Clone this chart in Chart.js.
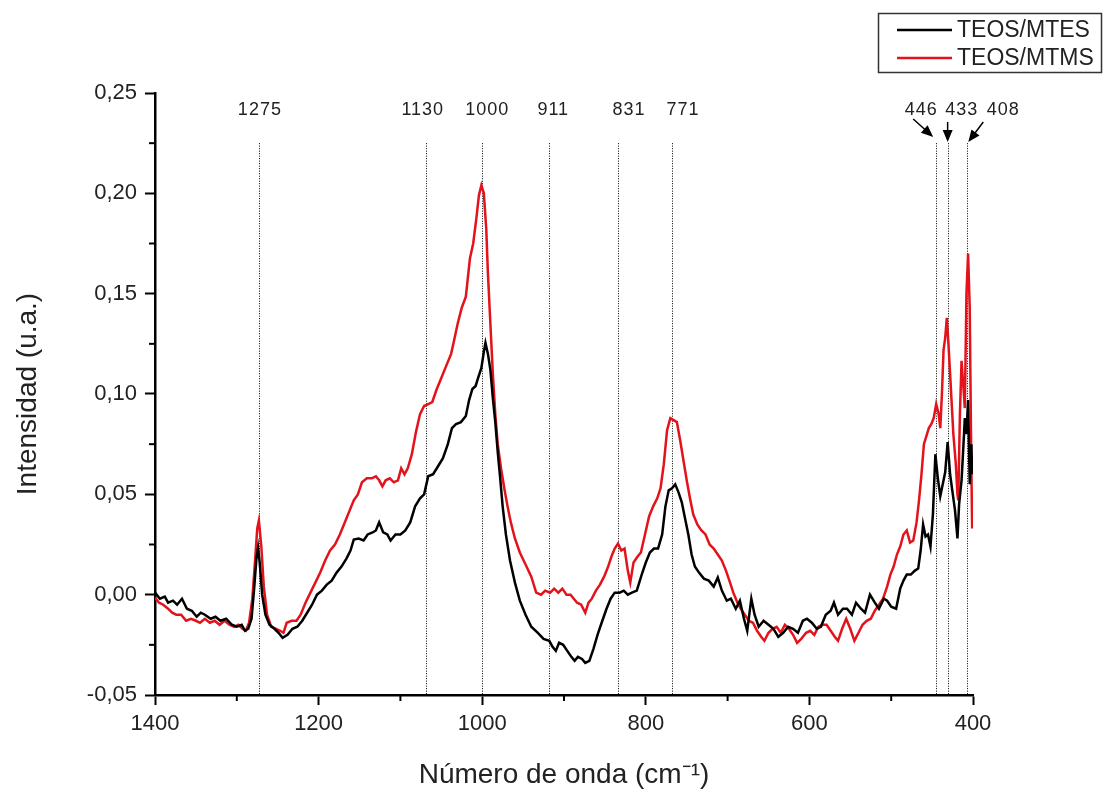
<!DOCTYPE html>
<html>
<head>
<meta charset="utf-8">
<script src="https://cdn.jsdelivr.net/npm/chart.js@4.4.1/dist/chart.umd.min.js"></script>
<style>
  body { margin: 0; background: #fff; }
</style>
</head>
<body>
<canvas id="ramanChart" width="1103" height="792"></canvas>
<script>
// Espectros (numero de onda cm-1, intensidad u.a.)
const mtesSpectrum = [
    [1400,0.001],[1394,-0.002],[1388,-0.001],[1384,-0.004],[1378,-0.003],[1373,-0.005],[1367,-0.002],[1361,-0.007],
    [1355,-0.008],[1349,-0.011],[1344,-0.009],[1339,-0.010],[1332,-0.012],[1326,-0.011],[1320,-0.013],[1313,-0.012],
    [1306,-0.015],[1300,-0.016],[1294,-0.015],[1290,-0.018],[1286,-0.017],[1282,-0.012],[1279,0.002],[1276,0.018],
    [1274,0.0235],[1272,0.016],[1269,0.000],[1265,-0.010],[1260,-0.015],[1254,-0.017],[1249,-0.019],[1244,-0.0215],
    [1238,-0.020],[1232,-0.017],[1226,-0.016],[1220,-0.013],[1214,-0.009],[1208,-0.005],[1202,0.000],[1196,0.002],
    [1190,0.005],[1184,0.007],[1178,0.011],[1172,0.014],[1166,0.018],[1161,0.022],[1157,0.0275],[1151,0.028],
    [1145,0.027],[1140,0.030],[1134,0.031],[1130,0.032],[1126,0.036],[1121,0.031],[1116,0.030],[1112,0.027],
    [1106,0.030],[1100,0.030],[1094,0.032],[1088,0.036],[1082,0.044],[1076,0.048],[1071,0.050],[1066,0.059],
    [1060,0.060],[1054,0.064],[1048,0.068],[1042,0.075],[1037,0.083],[1032,0.085],[1026,0.086],[1020,0.089],
    [1016,0.097],[1012,0.1025],[1008,0.104],[1005,0.108],[1001,0.113],[998,0.121],[996,0.1255],[993,0.120],
    [990,0.112],[987,0.098],[984,0.086],[981,0.071],[978,0.058],[975,0.044],[971,0.030],[966,0.017],
    [960,0.006],[954,-0.003],[947,-0.010],[940,-0.016],[932,-0.019],[925,-0.022],[918,-0.023],[914,-0.026],
    [910,-0.028],[906,-0.024],[901,-0.025],[896,-0.028],[891,-0.031],[887,-0.033],[883,-0.031],[878,-0.032],
    [874,-0.034],[869,-0.033],[864,-0.027],[859,-0.020],[854,-0.014],[848,-0.007],[843,-0.002],[838,0.001],
    [832,0.001],[827,0.002],[822,0.000],[817,0.001],[811,0.002],[805,0.010],[800,0.016],[795,0.021],
    [790,0.023],[785,0.023],[780,0.030],[776,0.044],[772,0.052],[768,0.053],[764,0.055],[760,0.051],
    [756,0.046],[752,0.038],[748,0.030],[744,0.020],[740,0.014],[735,0.011],[729,0.008],[723,0.007],
    [717,0.004],[712,0.0085],[707,0.002],[701,-0.003],[696,-0.002],[690,-0.007],[685,-0.003],[680,-0.012],
    [676,-0.018],[671,-0.002],[667,-0.010],[662,-0.016],[656,-0.013],[650,-0.015],[644,-0.017],[638,-0.021],
    [632,-0.019],[626,-0.016],[620,-0.017],[614,-0.019],[608,-0.013],[603,-0.012],[597,-0.014],[591,-0.017],
    [586,-0.016],[580,-0.010],[574,-0.008],[570,-0.004],[565,-0.010],[559,-0.007],[554,-0.007],[548,-0.010],
    [543,-0.004],[537,-0.007],[532,-0.009],[526,0.000],[520,-0.004],[515,-0.007],[509,-0.002],[505,-0.003],
    [500,-0.006],[494,-0.007],[489,0.003],[485,0.007],[481,0.010],[476,0.010],[471,0.012],[467,0.013],
    [464,0.022],[461,0.035],[458,0.029],[455,0.030],[452,0.024],[449,0.040],[446,0.070],[443,0.058],
    [440,0.049],[437,0.055],[434,0.061],[431,0.076],[428,0.060],[425,0.051],[422,0.042],[419,0.028],
    [417,0.045],[414,0.057],[412,0.072],[410,0.088],[408,0.080],[406,0.097],[404,0.055],[402,0.075],[401,0.060]
];

const mtmsSpectrum = [
    [1400,-0.0015],[1395,-0.004],[1390,-0.005],[1384,-0.007],[1379,-0.009],[1374,-0.010],[1368,-0.010],[1362,-0.013],
    [1356,-0.012],[1350,-0.013],[1345,-0.014],[1339,-0.012],[1333,-0.014],[1327,-0.013],[1321,-0.015],[1315,-0.013],
    [1309,-0.015],[1303,-0.016],[1298,-0.015],[1293,-0.017],[1289,-0.018],[1285,-0.014],[1281,-0.002],[1278,0.015],
    [1275,0.033],[1273,0.037],[1270,0.024],[1267,0.004],[1263,-0.010],[1258,-0.016],[1252,-0.017],[1247,-0.018],
    [1243,-0.019],[1239,-0.014],[1233,-0.013],[1227,-0.013],[1222,-0.010],[1216,-0.004],[1210,0.001],[1204,0.006],
    [1198,0.011],[1192,0.017],[1186,0.022],[1180,0.025],[1174,0.030],[1168,0.036],[1162,0.042],[1157,0.047],
    [1152,0.050],[1147,0.056],[1141,0.058],[1135,0.058],[1130,0.059],[1126,0.057],[1122,0.054],[1118,0.057],
    [1113,0.058],[1108,0.056],[1103,0.057],[1099,0.063],[1095,0.060],[1091,0.063],[1086,0.070],[1081,0.081],
    [1076,0.090],[1071,0.094],[1066,0.095],[1061,0.096],[1056,0.102],[1050,0.108],[1043,0.115],[1038,0.120],
    [1035,0.1255],[1030,0.135],[1025,0.143],[1020,0.1485],[1015,0.1675],[1011,0.175],[1007,0.188],[1004,0.199],
    [1001,0.204],[998,0.200],[995,0.182],[993,0.160],[990,0.135],[987,0.110],[984,0.090],[981,0.075],
    [977,0.063],[973,0.053],[969,0.044],[965,0.036],[960,0.028],[954,0.021],[947,0.015],[940,0.009],
    [934,0.001],[928,0.000],[923,0.002],[917,0.001],[912,0.003],[907,0.001],[902,0.003],[897,0.000],
    [892,0.000],[888,-0.002],[884,-0.004],[879,-0.005],[874,-0.009],[870,-0.004],[866,-0.002],[861,0.002],
    [856,0.005],[851,0.009],[846,0.014],[842,0.019],[838,0.023],[834,0.0255],[830,0.022],[826,0.023],
    [822,0.012],[819,0.006],[815,0.016],[810,0.019],[806,0.021],[801,0.030],[796,0.039],[791,0.044],
    [786,0.048],[782,0.053],[778,0.065],[774,0.082],[770,0.088],[766,0.087],[762,0.086],[758,0.077],
    [754,0.067],[750,0.057],[746,0.048],[742,0.040],[737,0.035],[732,0.032],[727,0.030],[722,0.025],
    [717,0.023],[712,0.020],[707,0.017],[702,0.012],[697,0.006],[693,0.001],[688,-0.004],[684,-0.007],
    [679,-0.010],[674,-0.013],[669,-0.014],[664,-0.018],[659,-0.021],[655,-0.023],[650,-0.019],[645,-0.017],
    [640,-0.016],[635,-0.019],[630,-0.015],[625,-0.017],[620,-0.020],[615,-0.024],[610,-0.022],[604,-0.019],
    [599,-0.018],[594,-0.020],[589,-0.016],[584,-0.015],[579,-0.015],[574,-0.018],[569,-0.021],[565,-0.023],
    [560,-0.017],[555,-0.012],[550,-0.017],[545,-0.023],[540,-0.019],[535,-0.015],[530,-0.013],[525,-0.012],
    [520,-0.008],[515,-0.005],[510,-0.002],[505,0.004],[501,0.010],[497,0.014],[493,0.020],[489,0.024],
    [485,0.030],[481,0.032],[477,0.026],[473,0.027],[469,0.036],[466,0.047],[463,0.060],[460,0.075],
    [457,0.079],[454,0.083],[451,0.085],[448,0.088],[445,0.095],[442,0.090],[440,0.083],[438,0.100],
    [436,0.122],[434,0.128],[432,0.138],[430,0.125],[428,0.110],[426,0.095],[424,0.080],[421,0.065],
    [419,0.050],[418,0.047],[416,0.090],[414,0.1165],[412,0.105],[410,0.093],[408,0.150],[406,0.170],
    [404,0.143],[402,0.063],[401,0.033]
];

const xTicks = [1400, 1200, 1000, 800, 600, 400];
const xMinorTicks = [1300, 1100, 900, 700, 500];
const yTicks = [-0.05, 0, 0.05, 0.10, 0.15, 0.20, 0.25];
const yMinorTicks = [-0.025, 0.025, 0.075, 0.125, 0.175, 0.225];

// bandas marcadas (posicion de la linea y texto de la etiqueta)
const bandLines = [1273, 1069, 1000, 918, 834, 768, 445, 431, 407];
const bandLabels = ['1275', '1130', '1000', '911', '831', '771', '446', '433', '408'];

const FONT = "'Liberation Sans', Arial, sans-serif";

const toPoints = arr => arr.map(p => ({ x: p[0], y: p[1] }));

// minor ticks, dotted band lines, band labels and the boxed legend
const extras = {
    id: 'extras',
    beforeDatasetsDraw(chart) {
        const { ctx, scales: { x, y } } = chart;
        ctx.save();
        ctx.strokeStyle = '#000';
        ctx.lineWidth = 1;
        ctx.setLineDash([1, 1.5]);
        const top = y.getPixelForValue(0.225);
        bandLines.forEach(w => {
            const px = Math.round(x.getPixelForValue(w)) + 0.5;
            ctx.beginPath();
            ctx.moveTo(px, top);
            ctx.lineTo(px, y.bottom);
            ctx.stroke();
        });
        ctx.restore();
    },
    afterDraw(chart) {
        const { ctx, scales: { x, y } } = chart;
        ctx.save();

        // minor ticks
        ctx.strokeStyle = '#000';
        ctx.lineWidth = 2;
        xMinorTicks.forEach(v => {
            const px = x.getPixelForValue(v);
            ctx.beginPath();
            ctx.moveTo(px, y.bottom);
            ctx.lineTo(px, y.bottom + 6);
            ctx.stroke();
        });
        yMinorTicks.forEach(v => {
            const py = y.getPixelForValue(v);
            ctx.beginPath();
            ctx.moveTo(x.left, py);
            ctx.lineTo(x.left - 6, py);
            ctx.stroke();
        });

        // band labels
        const shift = [1, -3, 5, 4, 11, 11, -15, 14, 36];
        ctx.fillStyle = '#222';
        ctx.font = '18px ' + FONT;
        ctx.textAlign = 'center';
        ctx.textBaseline = 'middle';
        if ('letterSpacing' in ctx) ctx.letterSpacing = '1px';
        bandLabels.forEach((t, i) => {
            ctx.fillText(t, x.getPixelForValue(bandLines[i]) + shift[i], y.top + 17);
        });
        if ('letterSpacing' in ctx) ctx.letterSpacing = '0px';

        // arrows for the three close bands
        const arrow = (x0, y0, x1, y1) => {
            const a = Math.atan2(y1 - y0, x1 - x0);
            ctx.strokeStyle = '#000';
            ctx.lineWidth = 1.5;
            ctx.beginPath();
            ctx.moveTo(x0, y0);
            ctx.lineTo(x1 - 10 * Math.cos(a), y1 - 10 * Math.sin(a));
            ctx.stroke();
            ctx.fillStyle = '#000';
            ctx.beginPath();
            ctx.moveTo(x1, y1);
            ctx.lineTo(x1 - 12 * Math.cos(a) + 5 * Math.sin(a), y1 - 12 * Math.sin(a) - 5 * Math.cos(a));
            ctx.lineTo(x1 - 12 * Math.cos(a) - 5 * Math.sin(a), y1 - 12 * Math.sin(a) + 5 * Math.cos(a));
            ctx.closePath();
            ctx.fill();
        };
        const lx6 = x.getPixelForValue(bandLines[6]);
        const lx7 = x.getPixelForValue(bandLines[7]);
        const lx8 = x.getPixelForValue(bandLines[8]);
        arrow(lx6 - 23, y.top + 26, lx6 - 3, y.top + 44);
        arrow(lx7, y.top + 29, lx7, y.top + 49);
        arrow(lx8 + 16, y.top + 29, lx8 + 1, y.top + 49);

        // legend box
        ctx.strokeStyle = '#333';
        ctx.lineWidth = 1.5;
        ctx.strokeRect(878.5, 13.5, 223, 59);
        ctx.font = '23px ' + FONT;
        ctx.textAlign = 'left';
        ctx.textBaseline = 'middle';
        chart.data.datasets.forEach((ds, i) => {
            const ly = 30 + i * 28;
            ctx.strokeStyle = ds.borderColor;
            ctx.lineWidth = 2.5;
            ctx.beginPath();
            ctx.moveTo(897, ly);
            ctx.lineTo(952, ly);
            ctx.stroke();
            ctx.fillStyle = '#222';
            ctx.fillText(ds.label, 957, ly + 1);
        });
        ctx.restore();
    }
};

const ramanChart = new Chart(document.getElementById('ramanChart'), {
    type: 'line',
    data: {
        datasets: [{
            label: 'TEOS/MTES',
            data: toPoints(mtesSpectrum),
            borderColor: '#000000',
            borderWidth: 2.5,
            pointRadius: 0,
            tension: 0,
            fill: false,
        }, {
            label: 'TEOS/MTMS',
            data: toPoints(mtmsSpectrum),
            borderColor: '#e3121b',
            borderWidth: 2.5,
            pointRadius: 0,
            tension: 0,
            fill: false,
        }]
    },
    options: {
        responsive: false,
        animation: false,
        devicePixelRatio: 1,
        layout: { padding: { top: 93, right: 130, left: 0, bottom: 0 } },
        plugins: {
            legend: { display: false },
            tooltip: { enabled: false }
        },
        scales: {
            x: {
                type: 'linear',
                reverse: true,
                min: 400,
                max: 1400,
                afterBuildTicks: s => { s.ticks = xTicks.map(v => ({ value: v })); },
                afterFit: s => { s.height = 97; },
                grid: { drawOnChartArea: false, drawTicks: true, tickLength: 10, tickWidth: 2, tickColor: '#000' },
                border: { display: true, color: '#000', width: 2.5 },
                ticks: {
                    maxRotation: 0,
                    padding: 6,
                    color: '#222',
                    font: { family: FONT, size: 22 },
                    callback: v => String(v)
                },
                title: {
                    display: true,
                    text: 'Número de onda (cm⁻¹)',
                    color: '#222',
                    font: { family: FONT, size: 28 },
                    padding: { top: 0, bottom: 0 }
                }
            },
            y: {
                min: -0.05,
                max: 0.25,
                afterBuildTicks: s => { s.ticks = yTicks.map(v => ({ value: v })); },
                afterFit: s => { s.width = 155; },
                grid: { drawOnChartArea: false, drawTicks: true, tickLength: 10, tickWidth: 2, tickColor: '#000' },
                border: { display: true, color: '#000', width: 2.5 },
                ticks: {
                    padding: 8,
                    color: '#222',
                    font: { family: FONT, size: 22 },
                    callback: v => v.toFixed(2).replace('.', ',')
                },
                title: {
                    display: true,
                    text: 'Intensidad (u.a.)',
                    color: '#222',
                    font: { family: FONT, size: 28 },
                    padding: { top: 11, bottom: 0 }
                }
            }
        }
    },
    plugins: [extras]
});
</script>
</body>
</html>
